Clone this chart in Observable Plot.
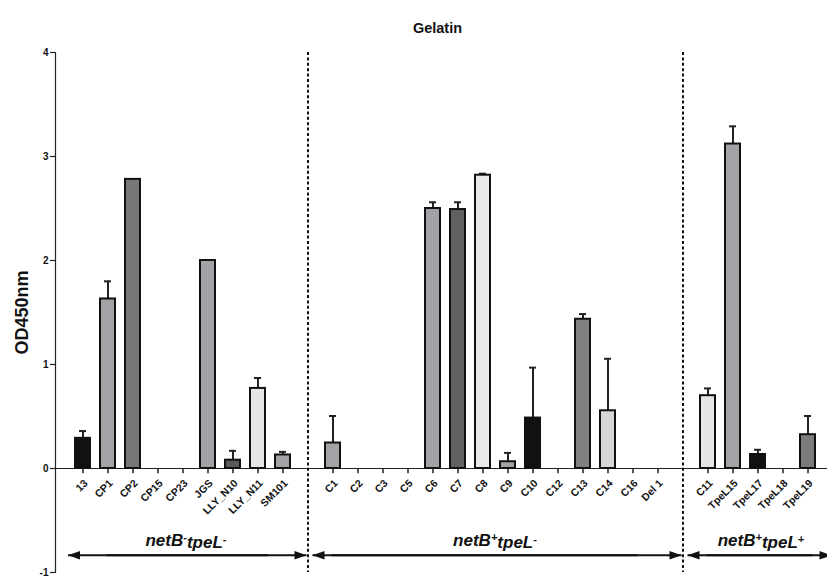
<!DOCTYPE html>
<html>
<head>
<meta charset="utf-8">
<script src="https://cdn.jsdelivr.net/npm/d3@7"></script>
<script src="https://cdn.jsdelivr.net/npm/@observablehq/plot@0.6"></script>
<style>
  html, body { margin: 0; padding: 0; background: white; overflow: hidden; }
</style>
</head>
<body>
<div id="chart"></div>
<script>
// ---- data ----
const categories = ["13","CP1","CP2","CP15","CP23","JGS","LLY_N10","LLY_N11","SM101",
  "C1","C2","C3","C5","C6","C7","C8","C9","C10","C12","C13","C14","C16","Del 1",
  "C11","TpeL15","TpeL17","TpeL18","TpeL19"];
const values = [0.29,1.63,2.78,0,0,2.0,0.08,0.77,0.13,
  0.245,0,0,0,2.50,2.49,2.82,0.065,0.485,0,1.435,0.555,0,0,
  0.70,3.12,0.135,0,0.325];
const errors = [0.07,0.17,0,0,0,0,0.09,0.10,0.03,
  0.26,0,0,0,0.06,0.07,0.015,0.085,0.485,0,0.05,0.50,0,0,
  0.07,0.17,0.045,0,0.18];
const fills = ["#111111","#a3a3a7","#777777","#ffffff","#ffffff","#a3a3a7","#5a5a5a","#e6e6e6","#a3a3a7",
  "#a3a3a7","#ffffff","#ffffff","#ffffff","#a3a3a7","#606060","#e9e9e9","#a3a3a7","#111111","#ffffff","#808080","#d6d6d6","#ffffff","#ffffff",
  "#e6e6e6","#a3a3a7","#111111","#ffffff","#7c7c7c"];
const yTicks = [-1,0,1,2,3,4];
const separators = ["sep1","sep2"];
const groupLabels = ["netB\u207BtpeL\u207B","netB\u207AtpeL\u207B","netB\u207AtpeL\u207A"];
const groupCenters = ["CP23","C8","TpeL17"];
const title = "Gelatin";
const yLabel = "OD450nm";

// x domain: groups separated by spacer slots, plus a trailing off-canvas slot
const xDomain = [...categories.slice(0,9), "sep1", ...categories.slice(9,23), "sep2", ...categories.slice(23), "end"];

const rows = categories.map((c,i) => ({cat: c, value: values[i], err: errors[i], fill: fills[i]}));
const barRows = rows.filter(d => d.value > 0);
const errRows = rows.filter(d => d.err > 0);

const groupRows = groupLabels.map((g,i) => ({label: g, at: groupCenters[i]}));
const arrowY = -0.835;
const rightArrows = [{from:"CP1", to:"sep1"}, {from:"C1", to:"sep2"}, {from:"C11", to:"end"}];
const leftArrows = [{from:"C16", to:"sep1"}, {from:"TpeL19", to:"sep2"}];
const firstArrow = [{from:"SM101", to:"13"}];

const step = 25.72;
const r0 = 72 - step/2;

const font = "Arial, 'Liberation Sans', Helvetica, sans-serif";

const linkOpts = (dx) => ({x1:"from", x2:"to", y1: () => arrowY, y2: () => arrowY,
  stroke:"#111", strokeWidth:2, markerEnd:"arrow", dx});

const groupTextOpts = (dx, filter) => ({x: "at", y: () => -0.69, text: "label", dx, fontSize: 17, fontWeight: "bold",
  fontStyle: "italic", lineAnchor: "middle", fill: "#111", filter, className: "grouplabel"});

const chart = Plot.plot({
  width: 827,
  height: 577,
  marginLeft: 55,
  marginRight: 0,
  marginTop: 52,
  marginBottom: 5,
  style: {fontFamily: font, background: "white", color: "#111"},
  x: {type: "band", domain: xDomain, range: [r0, r0 + step * xDomain.length], paddingInner: 0.4, paddingOuter: 0.2, axis: null},
  y: {domain: [-1, 4], axis: null},
  color: {type: "identity"},
  marks: [
    Plot.frame({anchor: "left", stroke: "#222", strokeWidth: 1.2}),
    Plot.axisY({ticks: yTicks, tickFormat: d => String(d), tickSize: 5, tickPadding: 2,
      fontSize: 10, fontWeight: "bold", label: null, stroke: "#222", strokeWidth: 1.2}),
    Plot.ruleY([0], {stroke: "#222", strokeWidth: 1.2}),
    Plot.ruleX(separators, {x: d => d, stroke: "#111", strokeWidth: 2, strokeDasharray: "3,2.4"}),
    Plot.ruleX(categories, {x: d => d, y1: 0, y2: -0.05, stroke: "#222", strokeWidth: 1.5}),
    Plot.ruleX(errRows, {x: "cat", y1: "value", y2: d => d.value + d.err, stroke: "#222", strokeWidth: 2}),
    Plot.tickY(errRows, {x: "cat", y: d => d.value + d.err, stroke: "#222", strokeWidth: 2, insetLeft: 4, insetRight: 4}),
    Plot.barY(barRows, {x: "cat", y: "value", fill: "fill", stroke: "#111", strokeWidth: 2}),
    Plot.text(categories, {x: d => d, y: () => 0, text: d => d, rotate: -45, textAnchor: "end",
      lineAnchor: "middle", dx: 3, dy: 13, fontSize: 10.5, fontWeight: "bold", fill: "#111"}),
    Plot.text(groupRows, groupTextOpts(3, d => d.at !== "C8")),
    Plot.text(groupRows, groupTextOpts(12, d => d.at === "C8")),
    Plot.link(rightArrows, linkOpts(-1.5)),
    Plot.link(leftArrows, linkOpts(4.5)),
    Plot.link(firstArrow, linkOpts(-15)),
    Plot.text([title], {frameAnchor: "top", lineAnchor: "middle", dy: -24, dx: -4, fontSize: 14.5, fontWeight: "bold", fill: "#111"}),
    Plot.text([yLabel], {frameAnchor: "left", textAnchor: "middle", lineAnchor: "middle", rotate: -90, dx: -33, fontSize: 18, fontWeight: "bold", fill: "#111"})
  ]
});

// filled triangular arrowheads
d3.select(chart).selectAll("marker").each(function() {
  const m = d3.select(this);
  m.selectAll("*").remove();
  m.attr("fill", "#111").attr("stroke", "none").style("overflow", "visible");
  m.append("path").attr("d", "M-9,-3.2L0,0L-9,3.2Z");
});

// render superscript signs in group labels as raised small text
const supMap = {"\u207B": "-", "\u207A": "+"};
d3.select(chart).selectAll(".grouplabel text").each(function() {
  const t = d3.select(this);
  const s = t.text();
  t.text(null);
  let raised = false;
  for (const ch of s) {
    if (supMap[ch]) {
      t.append("tspan").attr("dy", raised ? 0 : "-0.45em").attr("font-size", "11px").text(supMap[ch]);
      raised = true;
    } else {
      if (raised) { t.append("tspan").attr("dy", "0.45em").text(ch); raised = false; }
      else t.append("tspan").text(ch);
    }
  }
});

document.getElementById("chart").appendChild(chart);
</script>
</body>
</html>
